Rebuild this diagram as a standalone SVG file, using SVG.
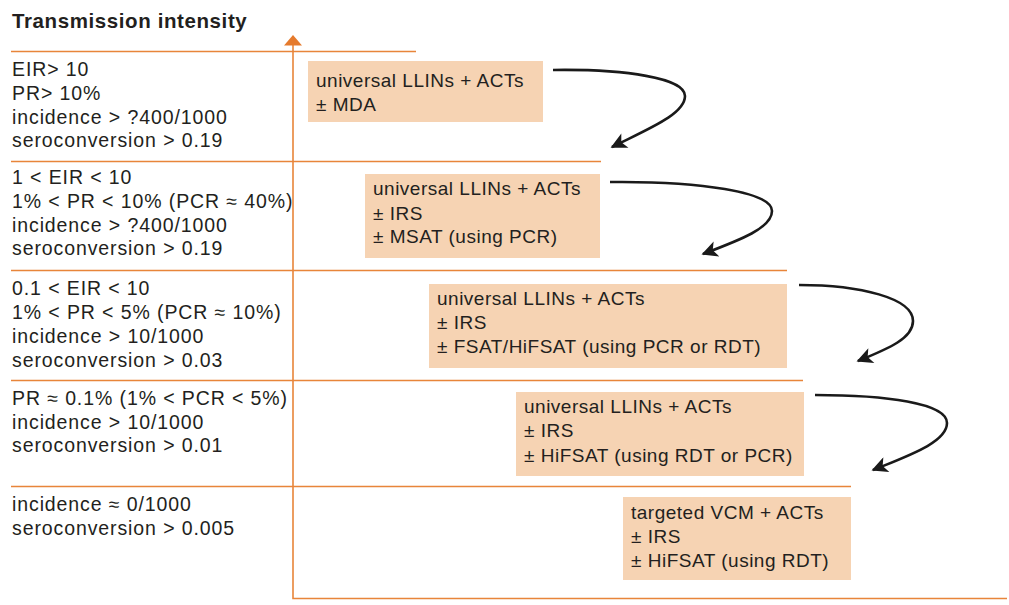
<svg xmlns="http://www.w3.org/2000/svg" width="1009" height="605" viewBox="0 0 1009 605">
<style>
.t{font-family:"Liberation Sans",Arial,sans-serif;font-size:19px;fill:#231f20}
.l{font-size:19.5px;letter-spacing:0.9px}
.r{letter-spacing:0.5px}
.ttl{font-family:"Liberation Sans",Arial,sans-serif;font-size:20.5px;font-weight:bold;fill:#231f20;letter-spacing:0.6px}
.hl{stroke:#e8853a;stroke-width:1.6;fill:none}
.box{fill:#f6d3b3}
.arr{stroke:#1a1a1a;stroke-width:2.6;fill:none;marker-end:url(#ah)}
</style>
<defs>
<marker id="ah" viewBox="0 0 10 10" refX="9" refY="5" markerUnits="userSpaceOnUse" markerWidth="19" markerHeight="16" orient="auto">
<path d="M0,0 L10,5 L0,10 L2.5,5 Z" fill="#1a1a1a"/>
</marker>
</defs>
<rect width="1009" height="605" fill="#ffffff"/>
<text class="ttl" x="12" y="28">Transmission intensity</text>
<g id="axes">
<polyline class="hl" points="293,44 293,598.5 1007,598.5" stroke="#e57a2c"/>
<polygon points="293,35 284,45.5 302,45.5" fill="#e57a2c"/>
</g>
<g id="separators">
<line class="hl" x1="11" y1="51.5" x2="416" y2="51.5"/>
<line class="hl" x1="11" y1="161.5" x2="601" y2="161.5"/>
<line class="hl" x1="11" y1="270.5" x2="787" y2="270.5"/>
<line class="hl" x1="11" y1="380.5" x2="803" y2="380.5"/>
<line class="hl" x1="11" y1="486.5" x2="851" y2="486.5"/>
</g>
<g id="level1">
<text class="t l"><tspan x="12" y="76">EIR&gt; 10</tspan><tspan x="12" y="100">PR&gt; 10%</tspan><tspan x="12" y="123.5">incidence &gt; ?400/1000</tspan><tspan x="12" y="147">seroconversion &gt; 0.19</tspan></text>
<rect class="box" x="308" y="61" width="235" height="61"/>
<text class="t r"><tspan x="316" y="87">universal LLINs + ACTs</tspan><tspan x="316" y="111">± MDA</tspan></text>
</g>
<g id="level2">
<text class="t l"><tspan x="12" y="184">1 &lt; EIR &lt; 10</tspan><tspan x="12" y="208">1% &lt; PR &lt; 10% (PCR ≈ 40%)</tspan><tspan x="12" y="231.5">incidence &gt; ?400/1000</tspan><tspan x="12" y="255">seroconversion &gt; 0.19</tspan></text>
<rect class="box" x="365" y="174" width="235" height="84"/>
<text class="t r"><tspan x="373" y="195">universal LLINs + ACTs</tspan><tspan x="373" y="219.5">± IRS</tspan><tspan x="373" y="243">± MSAT (using PCR)</tspan></text>
</g>
<g id="level3">
<text class="t l"><tspan x="12" y="295">0.1 &lt; EIR &lt; 10</tspan><tspan x="12" y="319">1% &lt; PR &lt; 5% (PCR ≈ 10%)</tspan><tspan x="12" y="343">incidence &gt; 10/1000</tspan><tspan x="12" y="367">seroconversion &gt; 0.03</tspan></text>
<rect class="box" x="429" y="284" width="358" height="84"/>
<text class="t r"><tspan x="437" y="305">universal LLINs + ACTs</tspan><tspan x="437" y="329">± IRS</tspan><tspan x="437" y="353">± FSAT/HiFSAT (using PCR or RDT)</tspan></text>
</g>
<g id="level4">
<text class="t l"><tspan x="12" y="405">PR ≈ 0.1% (1% &lt; PCR &lt; 5%)</tspan><tspan x="12" y="428.5">incidence &gt; 10/1000</tspan><tspan x="12" y="452">seroconversion &gt; 0.01</tspan></text>
<rect class="box" x="516" y="392" width="288" height="84"/>
<text class="t r"><tspan x="524" y="413">universal LLINs + ACTs</tspan><tspan x="524" y="437">± IRS</tspan><tspan x="524" y="461.5">± HiFSAT (using RDT or PCR)</tspan></text>
</g>
<g id="level5">
<text class="t l"><tspan x="12" y="511">incidence ≈ 0/1000</tspan><tspan x="12" y="535">seroconversion &gt; 0.005</tspan></text>
<rect class="box" x="623" y="497" width="228" height="83"/>
<text class="t r"><tspan x="631" y="519">targeted VCM + ACTs</tspan><tspan x="631" y="543">± IRS</tspan><tspan x="631" y="566.5">± HiFSAT (using RDT)</tspan></text>
</g>
<g id="connectors">
<path class="arr" d="M553,70 C625,69 685,78 685,96 C685,114 650,128 612,147"/>
<path class="arr" d="M610,182 C700,181 772,192 772,211 C772,228 740,240 703,254"/>
<path class="arr" d="M799,285 C860,285 913,298 913,321 C913,338 890,348 858,361"/>
<path class="arr" d="M815,395 C885,395 947,403 947,423 C947,442 910,455 873,470"/>
</g>
</svg>
